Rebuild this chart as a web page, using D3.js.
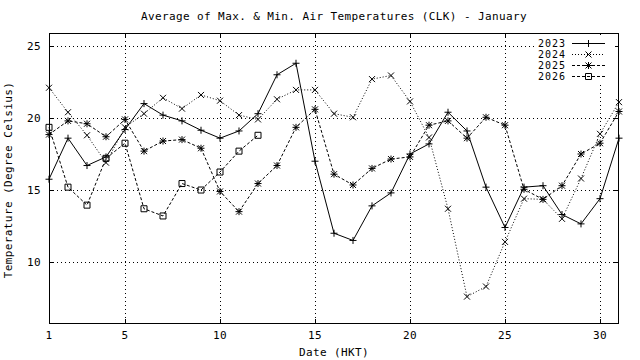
<!DOCTYPE html>
<html>
<head>
<meta charset="utf-8">
<script src="https://cdn.jsdelivr.net/npm/d3@7"></script>
<style>
  body { margin: 0; background: #fff; }
  text { font-family: "DejaVu Sans Mono", monospace; font-size: 11px; letter-spacing: 0.4px; fill: #000; }
  text.key { font-size: 10px; letter-spacing: 1px; }
</style>
</head>
<body>
<div id="chart"></div>
<script>
// data ------------------------------------------------------------------
const days = d3.range(1, 32);
const t2023 = [15.75, 18.6, 16.7, 17.3, 19.2, 21.0, 20.2, 19.8, 19.15, 18.6, 19.1, 20.3, 23.0, 23.8, 17.0,
  12.0, 11.5, 13.9, 14.8, 17.5, 18.2, 20.4, 19.1, 15.2, 12.4, 15.2, 15.3, 13.3, 12.65, 14.4, 18.6];
const t2024 = [22.1, 20.4, 18.8, 16.9, 19.35, 20.3, 21.4, 20.65, 21.6, 21.2, 20.2, 19.9, 21.3, 21.95, 21.95,
  20.3, 20.05, 22.7, 22.95, 21.15, 18.65, 13.7, 7.6, 8.3, 11.4, 14.4, 14.35, 13.0, 15.8, 18.9, 21.1];
const t2025 = [18.85, 19.8, 19.6, 18.7, 19.9, 17.7, 18.4, 18.5, 17.9, 14.9, 13.5, 15.45, 16.7, 19.35, 20.6,
  16.1, 15.35, 16.5, 17.15, 17.3, 19.5, 19.8, 18.6, 20.05, 19.5, 15.05, 14.35, 15.3, 17.5, 18.25, 20.45];
const t2026 = [19.35, 15.2, 13.95, 17.2, 18.25, 13.7, 13.2, 15.45, 15.0, 16.25, 17.7, 18.8];
const xTicks = [1, 5, 10, 15, 20, 25, 30];
const yTicks = [10, 15, 20, 25];

const series = [
  { name: "2023", values: t2023, dash: null, marker: "plus" },
  { name: "2024", values: t2024, dash: "1,2", marker: "cross" },
  { name: "2025", values: t2025, dash: "3,2", marker: "star" },
  { name: "2026", values: t2026, dash: "3,2", marker: "box" }
];

// layout ----------------------------------------------------------------
const W = 640, H = 360;
const pLeft = 49, pRight = 619, pTop = 33, pBottom = 324;

const svg = d3.select("#chart").append("svg").attr("width", W).attr("height", H);

const x = d3.scaleLinear().domain([1, 31]).range([pLeft, pRight]);
const y = d3.scaleLinear().domain([5.7, 25.9]).range([pBottom, pTop]);

// grid
svg.append("g").selectAll("line").data(xTicks.filter(d => d > 1)).join("line")
  .attr("x1", d => Math.round(x(d)) + 0.5).attr("x2", d => Math.round(x(d)) + 0.5)
  .attr("y1", pTop).attr("y2", pBottom)
  .attr("stroke", "#000").attr("stroke-dasharray", "1,3");

svg.append("g").selectAll("line").data(yTicks).join("line")
  .attr("x1", pLeft).attr("x2", pRight)
  .attr("y1", d => Math.round(y(d)) + 0.5).attr("y2", d => Math.round(y(d)) + 0.5)
  .attr("stroke", "#000").attr("stroke-dasharray", "1,3");

// border ticks (inward, mirrored)
const tk = svg.append("g").attr("stroke", "#000").attr("shape-rendering", "crispEdges");
xTicks.forEach(d => {
  const px = Math.round(x(d)) + 0.5;
  tk.append("line").attr("x1", px).attr("x2", px).attr("y1", pBottom).attr("y2", pBottom - 5);
  tk.append("line").attr("x1", px).attr("x2", px).attr("y1", pTop).attr("y2", pTop + 5);
});
yTicks.forEach(d => {
  const py = Math.round(y(d)) + 0.5;
  tk.append("line").attr("x1", pLeft).attr("x2", pLeft + 5).attr("y1", py).attr("y2", py);
  tk.append("line").attr("x1", pRight).attr("x2", pRight - 5).attr("y1", py).attr("y2", py);
});

// legend background (opaque key)
svg.append("rect").attr("x", 537).attr("y", 35).attr("width", 78).attr("height", 47).attr("fill", "#fff");

// tick labels
svg.append("g").selectAll("text").data(xTicks).join("text")
  .attr("x", d => x(d)).attr("y", 339).attr("text-anchor", "middle").text(d => d);
svg.append("g").selectAll("text").data(yTicks).join("text")
  .attr("x", 41).attr("y", d => y(d) + 4).attr("text-anchor", "end").text(d => d);

// titles
svg.append("text").attr("x", 334).attr("y", 20).attr("text-anchor", "middle")
  .text("Average of Max. & Min. Air Temperatures (CLK) - January");
svg.append("text").attr("x", 334).attr("y", 356).attr("text-anchor", "middle").text("Date (HKT)");
svg.append("text").attr("transform", "translate(12," + 180 + ") rotate(-90)")
  .attr("text-anchor", "middle").text("Temperature (Degree Celsius)");

// markers
function marker(g, type, cx, cy) {
  const s = 3.5;
  let p;
  if (type === "plus") p = `M${cx - s},${cy}H${cx + s}M${cx},${cy - s}V${cy + s}`;
  else if (type === "cross") p = `M${cx - 3},${cy - 3}L${cx + 3},${cy + 3}M${cx - 3},${cy + 3}L${cx + 3},${cy - 3}`;
  else if (type === "star") p = `M${cx - s},${cy}H${cx + s}M${cx},${cy - s}V${cy + s}` +
    `M${cx - 3},${cy - 3}L${cx + 3},${cy + 3}M${cx - 3},${cy + 3}L${cx + 3},${cy - 3}`;
  else p = `M${cx - 3},${cy - 3}H${cx + 3}V${cy + 3}H${cx - 3}Z`;
  g.append("path").attr("d", p).attr("fill", "none").attr("stroke", "#000");
}

const line = d3.line().x((d, i) => x(days[i])).y(d => y(d));

series.forEach(s => {
  svg.append("path").datum(s.values)
    .attr("d", line)
    .attr("fill", "none").attr("stroke", "#000").attr("stroke-width", 1)
    .attr("stroke-dasharray", s.dash);
  const g = svg.append("g");
  s.values.forEach((v, i) => marker(g, s.marker, x(days[i]), y(v)));
});

// legend
series.forEach((s, i) => {
  const ly = 43 + i * 11;
  svg.append("text").attr("class", "key").attr("x", 566).attr("y", ly + 4)
    .attr("text-anchor", "end").text(s.name);
  svg.append("line").attr("x1", 572).attr("x2", 605).attr("y1", ly + 0.5).attr("y2", ly + 0.5)
    .attr("stroke", "#000").attr("stroke-dasharray", s.dash);
  marker(svg.append("g"), s.marker, 588.5, ly + 0.5);
});

// border
svg.append("rect").attr("x", pLeft + 0.5).attr("y", pTop + 0.5)
  .attr("width", pRight - pLeft - 1).attr("height", pBottom - pTop - 1)
  .attr("fill", "none").attr("stroke", "#000").attr("shape-rendering", "crispEdges");
</script>
</body>
</html>
